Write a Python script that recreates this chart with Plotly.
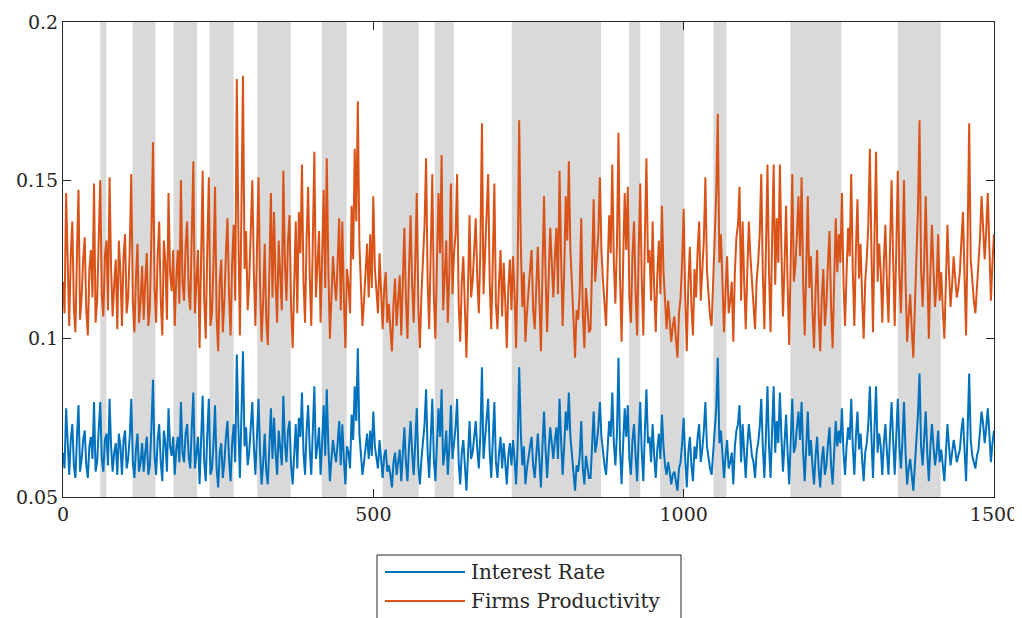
import plotly.graph_objects as go

# time index (every 5 periods) and intermediate readings (offset by 2.5)
t = list(range(0, 1501, 5))
t_mid = [v + 2.5 for v in range(0, 1500, 5)]

firms_productivity = [
    0.118, 0.146, 0.104, 0.137, 0.102, 0.147, 0.113, 0.132, 0.101, 0.128,
    0.149, 0.112, 0.150, 0.107, 0.131, 0.151, 0.107, 0.125, 0.131, 0.104,
    0.133, 0.113, 0.152, 0.102, 0.130, 0.112, 0.106, 0.127, 0.110, 0.162,
    0.105, 0.137, 0.101, 0.124, 0.146, 0.115, 0.104, 0.128, 0.150, 0.112,
    0.137, 0.109, 0.156, 0.118, 0.097, 0.153, 0.100, 0.151, 0.108, 0.148,
    0.096, 0.125, 0.112, 0.138, 0.101, 0.136, 0.182, 0.101, 0.183, 0.134,
    0.118, 0.150, 0.104, 0.151, 0.099, 0.130, 0.098, 0.146, 0.140, 0.105,
    0.122, 0.153, 0.112, 0.139, 0.097, 0.137, 0.140, 0.155, 0.105, 0.148,
    0.104, 0.159, 0.123, 0.105, 0.147, 0.157, 0.100, 0.126, 0.112, 0.138,
    0.137, 0.097, 0.117, 0.142, 0.160, 0.175, 0.118, 0.112, 0.130, 0.133,
    0.145, 0.113, 0.127, 0.103, 0.121, 0.111, 0.096, 0.119, 0.112, 0.101,
    0.135, 0.100, 0.139, 0.105, 0.146, 0.097, 0.125, 0.157, 0.103, 0.152,
    0.100, 0.146, 0.158, 0.118, 0.105, 0.149, 0.127, 0.152, 0.099, 0.126,
    0.094, 0.139, 0.118, 0.138, 0.108, 0.168, 0.127, 0.152, 0.103, 0.149,
    0.103, 0.128, 0.124, 0.097, 0.125, 0.126, 0.097, 0.169, 0.110, 0.099,
    0.116, 0.128, 0.103, 0.129, 0.096, 0.145, 0.102, 0.135, 0.113, 0.135,
    0.153, 0.104, 0.145, 0.156, 0.119, 0.094, 0.106, 0.138, 0.097, 0.110,
    0.103, 0.144, 0.125, 0.151, 0.118, 0.104, 0.139, 0.155, 0.111, 0.165,
    0.099, 0.146, 0.148, 0.105, 0.137, 0.101, 0.149, 0.101, 0.157, 0.128,
    0.137, 0.102, 0.131, 0.142, 0.110, 0.112, 0.099, 0.107, 0.094, 0.113,
    0.141, 0.096, 0.129, 0.101, 0.113, 0.137, 0.121, 0.151, 0.114, 0.104,
    0.128, 0.171, 0.133, 0.102, 0.126, 0.112, 0.099, 0.132, 0.148, 0.137,
    0.103, 0.137, 0.117, 0.103, 0.124, 0.152, 0.103, 0.155, 0.102, 0.155,
    0.138, 0.155, 0.107, 0.142, 0.098, 0.152, 0.123, 0.145, 0.151, 0.101,
    0.145, 0.126, 0.097, 0.128, 0.096, 0.122, 0.111, 0.134, 0.097, 0.138,
    0.133, 0.146, 0.104, 0.135, 0.152, 0.104, 0.144, 0.130, 0.100, 0.125,
    0.160, 0.102, 0.159, 0.130, 0.105, 0.136, 0.105, 0.150, 0.104, 0.153,
    0.108, 0.150, 0.099, 0.114, 0.094, 0.126, 0.169, 0.110, 0.145, 0.100,
    0.136, 0.110, 0.133, 0.121, 0.100, 0.136, 0.110, 0.126, 0.113, 0.121,
    0.140, 0.101, 0.168, 0.117, 0.108, 0.121, 0.145, 0.125, 0.146, 0.112, 0.133,
]

firms_productivity_mid = [
    0.108, 0.123, 0.126, 0.110, 0.127, 0.106, 0.125, 0.109, 0.122, 0.113,
    0.105, 0.131, 0.114, 0.126, 0.109, 0.122, 0.117, 0.103, 0.121, 0.126,
    0.108, 0.128, 0.112, 0.119, 0.105, 0.123, 0.118, 0.104, 0.133, 0.116,
    0.126, 0.112, 0.131, 0.106, 0.121, 0.128, 0.119, 0.111, 0.118, 0.129,
    0.115, 0.133, 0.108, 0.128, 0.125, 0.112, 0.129, 0.104, 0.124, 0.107,
    0.118, 0.102, 0.127, 0.114, 0.124, 0.112, 0.135, 0.141, 0.122, 0.109,
    0.134, 0.121, 0.128, 0.117, 0.112, 0.106, 0.121, 0.113, 0.118, 0.131,
    0.109, 0.124, 0.131, 0.110, 0.120, 0.108, 0.127, 0.118, 0.132, 0.120,
    0.131, 0.113, 0.134, 0.124, 0.116, 0.122, 0.113, 0.118, 0.124, 0.109,
    0.113, 0.122, 0.108, 0.125, 0.137, 0.130, 0.104, 0.122, 0.113, 0.116,
    0.122, 0.108, 0.113, 0.116, 0.105, 0.103, 0.111, 0.104, 0.120, 0.117,
    0.112, 0.122, 0.117, 0.124, 0.110, 0.114, 0.136, 0.118, 0.126, 0.113,
    0.124, 0.127, 0.109, 0.131, 0.121, 0.114, 0.133, 0.111, 0.118, 0.106,
    0.116, 0.113, 0.128, 0.119, 0.129, 0.114, 0.135, 0.118, 0.125, 0.111,
    0.118, 0.107, 0.112, 0.116, 0.109, 0.114, 0.122, 0.131, 0.121, 0.108,
    0.122, 0.109, 0.118, 0.113, 0.121, 0.120, 0.119, 0.124, 0.126, 0.114,
    0.126, 0.121, 0.131, 0.128, 0.106, 0.109, 0.115, 0.108, 0.116, 0.102,
    0.124, 0.118, 0.133, 0.128, 0.109, 0.122, 0.127, 0.124, 0.130, 0.119,
    0.124, 0.128, 0.113, 0.126, 0.115, 0.127, 0.118, 0.132, 0.124, 0.112,
    0.116, 0.120, 0.114, 0.121, 0.103, 0.106, 0.104, 0.100, 0.108, 0.124,
    0.113, 0.117, 0.110, 0.122, 0.128, 0.112, 0.131, 0.122, 0.107, 0.118,
    0.146, 0.124, 0.117, 0.115, 0.108, 0.118, 0.121, 0.136, 0.112, 0.118,
    0.121, 0.126, 0.112, 0.118, 0.133, 0.121, 0.128, 0.121, 0.131, 0.117,
    0.124, 0.128, 0.123, 0.117, 0.125, 0.118, 0.133, 0.126, 0.118, 0.122,
    0.116, 0.109, 0.115, 0.108, 0.113, 0.104, 0.124, 0.110, 0.118, 0.121,
    0.124, 0.118, 0.121, 0.126, 0.121, 0.128, 0.119, 0.113, 0.118, 0.136,
    0.128, 0.133, 0.118, 0.121, 0.124, 0.117, 0.129, 0.125, 0.128, 0.121,
    0.126, 0.118, 0.107, 0.103, 0.110, 0.141, 0.122, 0.124, 0.118, 0.121,
    0.122, 0.117, 0.112, 0.109, 0.118, 0.121, 0.117, 0.119, 0.116, 0.131,
    0.120, 0.132, 0.125, 0.112, 0.116, 0.132, 0.136, 0.134, 0.129, 0.124,
]

interest_rate = [
    0.064, 0.078, 0.057, 0.073, 0.056, 0.079, 0.062, 0.071, 0.056, 0.069,
    0.080, 0.061, 0.080, 0.058, 0.070, 0.081, 0.058, 0.067, 0.070, 0.057,
    0.071, 0.062, 0.081, 0.056, 0.070, 0.061, 0.058, 0.069, 0.060, 0.087,
    0.057, 0.073, 0.055, 0.067, 0.078, 0.063, 0.057, 0.069, 0.080, 0.061,
    0.073, 0.059, 0.083, 0.064, 0.054, 0.082, 0.055, 0.081, 0.059, 0.079,
    0.053, 0.067, 0.061, 0.074, 0.055, 0.073, 0.095, 0.056, 0.096, 0.072,
    0.064, 0.080, 0.057, 0.081, 0.054, 0.070, 0.054, 0.078, 0.075, 0.057,
    0.066, 0.082, 0.061, 0.074, 0.054, 0.073, 0.075, 0.083, 0.057, 0.079,
    0.057, 0.085, 0.066, 0.057, 0.079, 0.084, 0.055, 0.068, 0.061, 0.074,
    0.073, 0.054, 0.064, 0.076, 0.085, 0.097, 0.064, 0.061, 0.070, 0.071,
    0.077, 0.062, 0.068, 0.056, 0.065, 0.060, 0.053, 0.064, 0.061, 0.055,
    0.072, 0.055, 0.074, 0.057, 0.078, 0.054, 0.067, 0.084, 0.056, 0.081,
    0.055, 0.078, 0.084, 0.064, 0.057, 0.079, 0.068, 0.081, 0.054, 0.068,
    0.052, 0.074, 0.064, 0.074, 0.059, 0.091, 0.068, 0.081, 0.056, 0.080,
    0.056, 0.069, 0.067, 0.054, 0.067, 0.068, 0.054, 0.091, 0.060, 0.054,
    0.063, 0.069, 0.056, 0.070, 0.053, 0.077, 0.056, 0.072, 0.062, 0.072,
    0.081, 0.057, 0.077, 0.083, 0.064, 0.052, 0.058, 0.074, 0.054, 0.060,
    0.056, 0.077, 0.067, 0.080, 0.064, 0.057, 0.074, 0.083, 0.060, 0.094,
    0.054, 0.078, 0.079, 0.057, 0.073, 0.055, 0.080, 0.055, 0.084, 0.069,
    0.073, 0.056, 0.070, 0.076, 0.060, 0.061, 0.054, 0.058, 0.052, 0.061,
    0.075, 0.053, 0.069, 0.055, 0.062, 0.073, 0.065, 0.080, 0.062, 0.057,
    0.069, 0.094, 0.071, 0.056, 0.068, 0.061, 0.054, 0.071, 0.079, 0.073,
    0.056, 0.073, 0.063, 0.056, 0.067, 0.081, 0.056, 0.085, 0.056, 0.085,
    0.074, 0.083, 0.058, 0.076, 0.054, 0.081, 0.066, 0.077, 0.080, 0.055,
    0.077, 0.068, 0.054, 0.069, 0.053, 0.066, 0.060, 0.072, 0.054, 0.074,
    0.071, 0.078, 0.057, 0.072, 0.081, 0.057, 0.077, 0.070, 0.055, 0.067,
    0.085, 0.056, 0.085, 0.070, 0.057, 0.073, 0.057, 0.080, 0.057, 0.081,
    0.059, 0.080, 0.054, 0.062, 0.052, 0.068, 0.089, 0.060, 0.077, 0.055,
    0.073, 0.060, 0.071, 0.065, 0.055, 0.073, 0.060, 0.068, 0.061, 0.065,
    0.075, 0.055, 0.089, 0.063, 0.059, 0.065, 0.077, 0.067, 0.078, 0.061, 0.071,
]

interest_rate_mid = [
    0.059, 0.067, 0.068, 0.060, 0.069, 0.058, 0.068, 0.060, 0.066, 0.062,
    0.058, 0.071, 0.062, 0.068, 0.060, 0.066, 0.064, 0.057, 0.066, 0.068,
    0.059, 0.069, 0.061, 0.065, 0.058, 0.067, 0.064, 0.057, 0.072, 0.063,
    0.068, 0.061, 0.071, 0.058, 0.066, 0.069, 0.065, 0.061, 0.064, 0.070,
    0.063, 0.072, 0.059, 0.069, 0.068, 0.061, 0.070, 0.057, 0.067, 0.059,
    0.064, 0.056, 0.069, 0.062, 0.067, 0.061, 0.073, 0.076, 0.066, 0.060,
    0.072, 0.066, 0.069, 0.064, 0.061, 0.058, 0.066, 0.062, 0.064, 0.071,
    0.060, 0.067, 0.071, 0.060, 0.065, 0.059, 0.069, 0.064, 0.071, 0.065,
    0.071, 0.062, 0.072, 0.067, 0.063, 0.066, 0.062, 0.064, 0.067, 0.060,
    0.062, 0.066, 0.059, 0.068, 0.074, 0.070, 0.057, 0.066, 0.062, 0.063,
    0.066, 0.059, 0.062, 0.063, 0.058, 0.057, 0.061, 0.057, 0.065, 0.064,
    0.061, 0.066, 0.064, 0.067, 0.060, 0.062, 0.073, 0.064, 0.068, 0.062,
    0.067, 0.069, 0.060, 0.071, 0.066, 0.062, 0.072, 0.061, 0.064, 0.058,
    0.063, 0.062, 0.069, 0.065, 0.070, 0.062, 0.073, 0.064, 0.068, 0.061,
    0.064, 0.059, 0.061, 0.063, 0.060, 0.062, 0.066, 0.071, 0.066, 0.059,
    0.066, 0.060, 0.064, 0.062, 0.066, 0.065, 0.065, 0.067, 0.068, 0.062,
    0.068, 0.066, 0.071, 0.069, 0.058, 0.060, 0.063, 0.059, 0.063, 0.056,
    0.067, 0.064, 0.072, 0.069, 0.060, 0.066, 0.069, 0.067, 0.070, 0.065,
    0.067, 0.069, 0.062, 0.068, 0.063, 0.069, 0.064, 0.071, 0.067, 0.061,
    0.063, 0.065, 0.062, 0.066, 0.057, 0.058, 0.057, 0.055, 0.059, 0.067,
    0.062, 0.064, 0.060, 0.066, 0.069, 0.061, 0.071, 0.066, 0.059, 0.064,
    0.078, 0.067, 0.064, 0.063, 0.059, 0.064, 0.066, 0.073, 0.061, 0.064,
    0.066, 0.068, 0.061, 0.064, 0.072, 0.066, 0.069, 0.066, 0.071, 0.064,
    0.067, 0.069, 0.067, 0.064, 0.068, 0.064, 0.072, 0.068, 0.064, 0.066,
    0.063, 0.060, 0.063, 0.059, 0.062, 0.057, 0.067, 0.060, 0.064, 0.066,
    0.067, 0.064, 0.066, 0.068, 0.066, 0.069, 0.065, 0.062, 0.064, 0.073,
    0.069, 0.072, 0.064, 0.066, 0.067, 0.064, 0.070, 0.068, 0.069, 0.066,
    0.068, 0.064, 0.059, 0.057, 0.060, 0.076, 0.066, 0.067, 0.064, 0.066,
    0.066, 0.064, 0.061, 0.060, 0.064, 0.066, 0.064, 0.065, 0.063, 0.071,
    0.065, 0.071, 0.068, 0.061, 0.063, 0.071, 0.073, 0.072, 0.070, 0.067,
]

# shaded periods (start, end)
shade_start = [60, 112, 178, 236, 313, 417, 515, 599, 723, 912, 962, 1048, 1172, 1345]
shade_end = [70, 149, 216, 275, 367, 457, 573, 630, 867, 930, 1001, 1069, 1254, 1414]

x_ticks = [0, 500, 1000, 1500]
y_ticks = [0.05, 0.1, 0.15, 0.2]
y_tick_text = ["0.05", "0.1", "0.15", "0.2"]

series_names = ["Interest Rate", "Firms Productivity"]
series_colors = ["#0072BD", "#D95319"]

FONT = "DejaVu Serif"


def merge(ta, va, tb, vb):
    pairs = sorted(zip(list(ta) + list(tb), list(va) + list(vb)))
    return [p[0] for p in pairs], [p[1] for p in pairs]


t_all, ir_all = merge(t, interest_rate, t_mid, interest_rate_mid)
_, fp_all = merge(t, firms_productivity, t_mid, firms_productivity_mid)

fig = go.Figure()

for s, e in zip(shade_start, shade_end):
    fig.add_vrect(x0=s, x1=e, fillcolor="#d9d9d9", opacity=1, line_width=0, layer="below")

fig.add_trace(go.Scatter(x=t_all, y=ir_all, mode="lines", name=series_names[0],
                         line=dict(color=series_colors[0], width=2)))
fig.add_trace(go.Scatter(x=t_all, y=fp_all, mode="lines", name=series_names[1],
                         line=dict(color=series_colors[1], width=2)))

# custom legend box below the axes (MATLAB style); positions relative to plot area
W = 931.0
H = 475.0


def px(xp):
    return (xp - 63) / W


def py(yp):
    return (497 - yp) / H


fig.add_shape(type="rect", xref="paper", yref="paper",
              x0=px(377), x1=px(681), y0=py(624), y1=py(555),
              line=dict(color="#262626", width=1), fillcolor="white")
for i, yy in enumerate([572, 601]):
    fig.add_shape(type="line", xref="paper", yref="paper",
                  x0=px(385), x1=px(465), y0=py(yy), y1=py(yy),
                  line=dict(color=series_colors[i], width=2))
    fig.add_annotation(xref="paper", yref="paper", x=px(469), y=py(yy),
                       text=series_names[i], showarrow=False, xanchor="left",
                       yanchor="middle", font=dict(family=FONT, size=20, color="#262626"))

axis_common = dict(showline=True, linecolor="#262626", linewidth=1, mirror="ticks",
                   ticks="inside", ticklen=8, tickcolor="#262626", showgrid=False,
                   zeroline=False, automargin=False,
                   tickfont=dict(family=FONT, size=19, color="#262626"))

fig.update_xaxes(range=[0, 1500], tickvals=x_ticks, ticktext=[str(v) for v in x_ticks], **axis_common)
fig.update_yaxes(range=[0.05, 0.2], tickvals=y_ticks, ticktext=y_tick_text, **axis_common)

# page body has an 8px margin, so the figure is shifted by 8px; compensate
fig.update_layout(
    width=1014, height=610,
    margin=dict(l=55, r=28, t=14, b=121, autoexpand=False),
    paper_bgcolor="white", plot_bgcolor="white",
    showlegend=False,
    font=dict(family=FONT, color="#262626"),
)

fig.write_html("out.html")
